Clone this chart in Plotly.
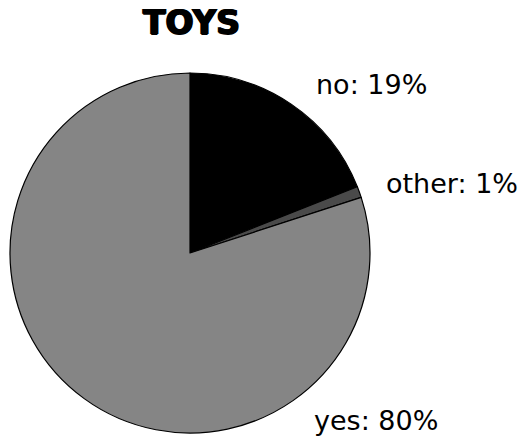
import plotly.graph_objects as go

# Survey answers for the "TOYS" question
categories = ["no", "other", "yes"]
percentages = [19, 1, 80]
slice_colors = ["#000000", "#4a4a4a", "#858585"]
title_text = "TOYS"

W, H = 526, 438

fig = go.Figure(
    go.Pie(
        labels=categories,
        values=percentages,
        sort=False,
        direction="clockwise",
        rotation=0,
        textinfo="none",
        hoverinfo="label+percent",
        marker=dict(colors=slice_colors, line=dict(color="#000000", width=1.2)),
        domain=dict(x=[9 / W, 371 / W], y=[5 / H, 365 / H]),
        showlegend=False,
    )
)

label_font = dict(family="DejaVu Sans", size=27, color="#000000")
# label anchor points (left edge, vertical middle) in pixels
label_pos = {"no": (314, 84), "other": (384, 183), "yes": (312, 420)}
for cat, pct in zip(categories, percentages):
    px, py = label_pos[cat]
    fig.add_annotation(
        x=px / W, y=1 - py / H, xref="paper", yref="paper",
        xanchor="left", yanchor="middle",
        text=f"{cat}: {pct}%", showarrow=False, font=label_font,
    )

fig.add_annotation(
    x=191 / W, y=1 - 22 / H, xref="paper", yref="paper",
    xanchor="center", yanchor="middle", text=f"<b>{title_text}</b>",
    showarrow=False,
    font=dict(family="DejaVu Sans", size=33, color="#000000", weight=900,
              shadow="1px 0px 0px #000, -1px 0px 0px #000, 0px 1px 0px #000"),
)

fig.update_layout(
    width=W, height=H,
    margin=dict(l=0, r=0, t=0, b=0),
    paper_bgcolor="#ffffff",
    plot_bgcolor="#ffffff",
)

fig.write_html("out.html")
